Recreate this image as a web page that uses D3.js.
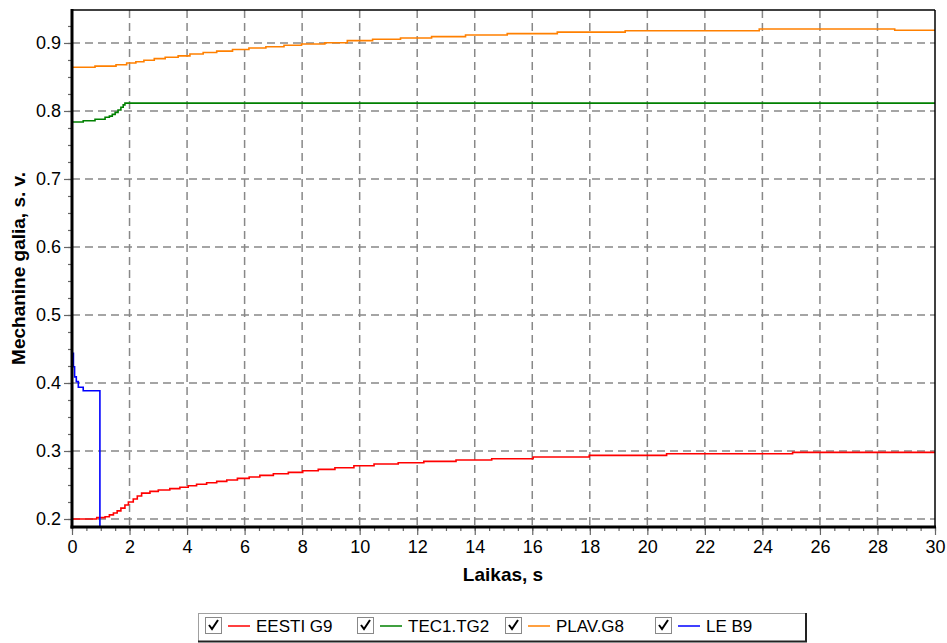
<!DOCTYPE html>
<html>
<head>
<meta charset="utf-8">
<script src="https://cdn.jsdelivr.net/npm/d3@7"></script>
<style>
  body { margin: 0; background: #fff; }
  svg text { font-family: Arial, "Liberation Sans", sans-serif; }
</style>
</head>
<body>
<svg id="chart" width="947" height="643"></svg>
<script>
// series, stepwise (value holds until the next time)
const eestiT = [0, 0.86, 1.15, 1.3, 1.44, 1.57, 1.7, 1.84, 1.96, 2.13, 2.27, 2.42, 2.71, 3.0, 3.4, 3.75, 4.04, 4.33, 4.68, 5.03,
                5.38, 5.75, 6.16, 6.53, 7.0, 7.52, 8.02, 8.56, 9.14, 9.8, 10.5, 11.34, 12.23, 13.35, 14.59, 16.03, 17.98, 20.67, 25.05, 30];
const eestiV = [0.200, 0.202, 0.2034, 0.206, 0.2088, 0.212, 0.216, 0.2206, 0.225, 0.2294, 0.2338, 0.238, 0.2406, 0.2426, 0.2446, 0.2466, 0.249, 0.251, 0.2534, 0.2554,
                0.2574, 0.2598, 0.2618, 0.2642, 0.2666, 0.2686, 0.271, 0.273, 0.2754, 0.2784, 0.2809, 0.2828, 0.2848, 0.2868, 0.2887, 0.2912, 0.2935, 0.296, 0.298, 0.298];

const tecT = [0, 0.39, 0.8, 1.15, 1.3, 1.4, 1.5, 1.6, 1.7, 1.78, 1.84, 30];
const tecV = [0.7838, 0.7857, 0.7878, 0.7907, 0.7925, 0.795, 0.798, 0.8015, 0.8055, 0.809, 0.8115, 0.8115];

const plavT = [0, 0.8, 1.53, 1.9, 2.22, 2.5, 2.86, 3.24, 3.69, 4.1, 4.56, 5.03, 5.58, 6.15, 6.74, 7.37, 7.98, 8.79, 9.57,
               10.45, 11.42, 12.5, 13.68, 15.13, 16.87, 19.23, 23.89, 28.6, 30];
const plavV = [0.8643, 0.866, 0.868, 0.8706, 0.8725, 0.8745, 0.877, 0.879, 0.881, 0.8838, 0.886, 0.888, 0.8905, 0.8926, 0.8945, 0.8966, 0.8985, 0.9004, 0.9034,
               0.9054, 0.9074, 0.9093, 0.9118, 0.9137, 0.916, 0.918, 0.9206, 0.9187, 0.9187];

const leT = [0.02, 0.05, 0.09, 0.15, 0.22, 0.39, 0.97];
const leV = [0.4437, 0.424, 0.409, 0.402, 0.3937, 0.3887, 0.15];

const seriesNames = ['EESTI G9', 'TEC1.TG2', 'PLAV.G8', 'LE B9'];
const seriesColors = ['#ff0000', '#008000', '#ff8000', '#0000ff'];

const xTicks = d3.range(0, 31, 2);
const yTicks = [0.2, 0.3, 0.4, 0.5, 0.6, 0.7, 0.8, 0.9];

const svg = d3.select('#chart');
const pLeft = 72, pTop = 10, pRight = 935, pBottom = 527;

const x = d3.scaleLinear().domain([0, 30]).range([pLeft, pRight]);
const y = d3.scaleLinear().domain([0.18824, 0.9485]).range([pBottom, pTop]);

// grid
const grid = svg.append('g');
grid.selectAll('.vg').data(xTicks.filter(d => d > 0 && d < 30)).enter()
  .append('line')
  .attr('x1', d => x(d)).attr('x2', d => x(d))
  .attr('y1', pTop).attr('y2', pBottom)
  .attr('stroke', '#888').attr('stroke-width', 1.5)
  .attr('stroke-dasharray', '8,5');
grid.selectAll('.hg').data(yTicks).enter()
  .append('line')
  .attr('x1', pLeft).attr('x2', pRight)
  .attr('y1', d => y(d)).attr('y2', d => y(d))
  .attr('stroke', '#888').attr('stroke-width', 1.5)
  .attr('stroke-dasharray', '8,5');

// lines
svg.append('clipPath').attr('id', 'clip')
  .append('rect').attr('x', pLeft).attr('y', pTop).attr('width', pRight - pLeft).attr('height', pBottom - pTop);

const line = d3.line()
  .x(d => x(d[0]))
  .y(d => y(d[1]))
  .curve(d3.curveStepAfter);

const allSeries = [
  d3.zip(eestiT, eestiV),
  d3.zip(tecT, tecV),
  d3.zip(plavT, plavV),
  d3.zip(leT, leV)
];

svg.append('g').attr('clip-path', 'url(#clip)')
  .selectAll('path').data(allSeries).enter()
  .append('path')
  .attr('d', d => line(d))
  .attr('fill', 'none')
  .attr('stroke', (d, i) => seriesColors[i])
  .attr('stroke-width', 1.6);

// frame
svg.append('line').attr('x1', pLeft).attr('x2', pRight).attr('y1', pTop).attr('y2', pTop)
  .attr('stroke', '#000').attr('stroke-width', 1.5);
svg.append('line').attr('x1', pRight).attr('x2', pRight).attr('y1', pTop).attr('y2', pBottom)
  .attr('stroke', '#000').attr('stroke-width', 1.5);

// axes
const xAxis = d3.axisBottom(x).tickValues(xTicks).tickSize(8).tickPadding(5);
const xMinor = d3.axisBottom(x).tickValues(d3.range(0, 30.01, 0.5)).tickSize(4).tickFormat('');
const yAxis = d3.axisLeft(y).tickValues(yTicks).tickSize(8).tickPadding(3).tickFormat(d3.format('.1f'));
const yMinor = d3.axisLeft(y).tickValues(d3.range(0.2, 0.95, 0.025)).tickSize(4).tickFormat('');

function styleAxis(g) {
  g.select('.domain').remove();
  g.selectAll('line').attr('stroke', '#666').attr('stroke-width', 1.2);
  g.selectAll('text').attr('font-size', 18).attr('fill', '#000');
}

svg.append('g').attr('transform', `translate(0,${pBottom})`).call(xMinor).call(styleAxis);
svg.append('g').attr('transform', `translate(0,${pBottom})`).call(xAxis).call(styleAxis);
svg.append('g').attr('transform', `translate(${pLeft},0)`).call(yMinor).call(styleAxis);
svg.append('g').attr('transform', `translate(${pLeft},0)`).call(yAxis).call(styleAxis);

svg.append('line').attr('x1', pLeft).attr('x2', pLeft).attr('y1', pTop - 1).attr('y2', pBottom + 1.5)
  .attr('stroke', '#000').attr('stroke-width', 3);
svg.append('line').attr('x1', pLeft - 1.5).attr('x2', pRight + 1).attr('y1', pBottom).attr('y2', pBottom)
  .attr('stroke', '#000').attr('stroke-width', 3);

// axis titles
svg.append('text')
  .attr('x', 503).attr('y', 581)
  .attr('text-anchor', 'middle')
  .attr('font-size', 19).attr('font-weight', 'bold')
  .text('Laikas, s');
svg.append('text')
  .attr('transform', `translate(25,${(pTop + pBottom) / 2}) rotate(-90)`)
  .attr('text-anchor', 'middle')
  .attr('font-size', 19).attr('font-weight', 'bold')
  .text('Mechanine galia, s. v.');

// legend
const legX = [205, 357, 505, 655];
const leg = svg.append('g');
leg.append('rect').attr('x', 198.5).attr('y', 613.5).attr('width', 607).attr('height', 28)
  .attr('fill', '#fff').attr('stroke', '#a0a0a0').attr('stroke-width', 1);
leg.append('line').attr('x1', 198).attr('x2', 807).attr('y1', 641.5).attr('y2', 641.5)
  .attr('stroke', '#222').attr('stroke-width', 2);
leg.append('line').attr('x1', 806).attr('x2', 806).attr('y1', 613).attr('y2', 642)
  .attr('stroke', '#222').attr('stroke-width', 2);

const items = leg.selectAll('.item').data(seriesNames).enter()
  .append('g').attr('transform', (d, i) => `translate(${legX[i]},0)`);
items.append('rect').attr('x', 0.5).attr('y', 617.5).attr('width', 16).attr('height', 16)
  .attr('fill', '#fff').attr('stroke', '#888').attr('stroke-width', 1);
items.append('path').attr('d', 'M4,625 L7,629 L13,620')
  .attr('fill', 'none').attr('stroke', '#000').attr('stroke-width', 2);
items.append('line').attr('x1', 23).attr('x2', 45).attr('y1', 626).attr('y2', 626)
  .attr('stroke', (d, i) => seriesColors[i]).attr('stroke-width', 1.5);
items.append('text').attr('x', 51).attr('y', 632)
  .attr('font-size', 17).text(d => d);
</script>
</body>
</html>
